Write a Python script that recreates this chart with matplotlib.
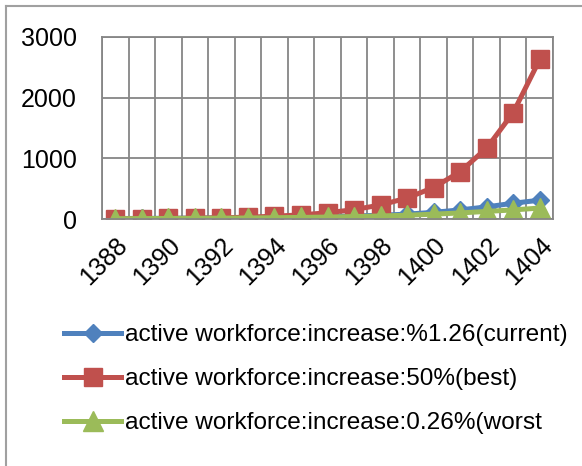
import matplotlib
matplotlib.use('Agg')
import matplotlib.pyplot as plt
from matplotlib.lines import Line2D

plt.rcParams['font.family'] = ['Liberation Sans', 'DejaVu Sans']

years = [1388, 1389, 1390, 1391, 1392, 1393, 1394, 1395, 1396,
         1397, 1398, 1399, 1400, 1401, 1402, 1403, 1404]
current = [8, 10, 12, 15, 18, 22, 27, 33, 40, 50, 62, 80, 110, 150, 200, 260, 310]
best = [4, 6, 9, 13, 20, 30, 46, 68, 103, 154, 231, 346, 519, 779, 1169, 1753, 2630]
worst = [5, 7, 9, 11, 14, 17, 21, 26, 32, 40, 50, 62, 80, 100, 125, 150, 180]
labels = ["active workforce:increase:%1.26(current)",
          "active workforce:increase:50%(best)",
          "active workforce:increase:0.26%(worst"]
yticks = [0, 1000, 2000, 3000]

W, H = 582, 466
fig = plt.figure(figsize=(W / 100, H / 100), dpi=100)
ax = fig.add_axes([102 / W, 1 - 219 / H, (553 - 102) / W, (219 - 37) / H])

x = list(range(len(years)))
ax.plot(x, current, color='#4F81BD', lw=3.6, marker='D', ms=9, label=labels[0])
ax.plot(x, best, color='#C0504D', lw=3.6, marker='s', ms=13.5, label=labels[1])
ax.plot(x, worst, color='#9BBB59', lw=3.6, marker='^', ms=14, label=labels[2])

ax.set_xlim(-0.5, len(years) - 0.5)
ax.set_ylim(0, 3000)
ax.set_yticks(yticks)
ax.set_yticklabels([str(v) for v in yticks], fontsize=18)
ax.set_xticks(x[::2])
ax.set_xticklabels([str(y) for y in years[::2]], rotation=45, ha='right',
                   rotation_mode='anchor', fontsize=18)
ax.set_xticks([i - 0.5 for i in range(len(years) + 1)], minor=True)
ax.tick_params(axis='both', which='both', length=0)
ax.tick_params(axis='y', pad=18)
ax.tick_params(axis='x', pad=10)
ax.grid(True, which='minor', axis='x', color='#868686', lw=1.3)
ax.grid(True, which='major', axis='y', color='#868686', lw=1.3)
for s in ax.spines.values():
    s.set_color('#868686')
    s.set_linewidth(1.3)
ax.set_axisbelow(True)

fig.legend(loc='upper left', bbox_to_anchor=(64 / W, 1 - 324 / H), frameon=False,
           fontsize=17.6, handlelength=2.35, handletextpad=0.15, labelspacing=0.9,
           borderaxespad=0, borderpad=0)

# chart outer border (only left and top visible in crop)
fig.add_artist(Line2D([6 / W, 6 / W], [0, 1 - 6 / H], color='#A0A0A0', lw=1.5))
fig.add_artist(Line2D([6 / W, 1], [1 - 6 / H, 1 - 6 / H], color='#A0A0A0', lw=1.5))

fig.savefig('out.png', dpi=100)
